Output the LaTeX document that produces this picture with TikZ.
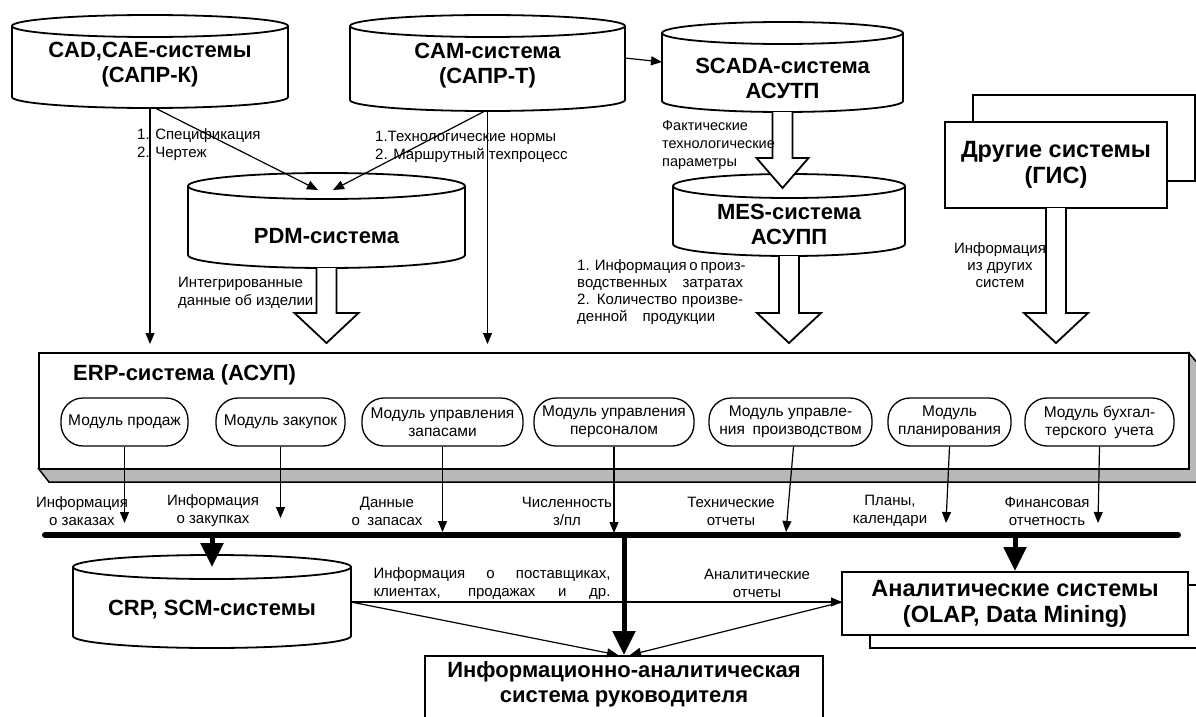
\documentclass[tikz,border=0pt]{standalone}
\usepackage{fontspec}
\setmainfont{Liberation Sans}
\usetikzlibrary{arrows.meta}
\newcommand{\lblfont}{\fontsize{15}{18}\selectfont}
\newcommand{\modfont}{\fontsize{15.5}{18}\selectfont}
\newcommand{\ttlfont}{\fontsize{22}{25}\selectfont\bfseries}
\newcommand{\bigttlfont}{\fontsize{23.5}{26}\selectfont\bfseries}
\newcommand{\drawcyl}[6]{%
  \pgfmathsetmacro{\cylrx}{(#3-#2)/2}%
  \pgfmathsetmacro{\cylca}{#4+#6}%
  \pgfmathsetmacro{\cylcb}{#5-#6}%
  \pgfmathsetmacro{\cylcx}{(#2+#3)/2}%
  \filldraw[cylline] (#2,-\cylca) -- (#2,-\cylcb) arc[start angle=180,end angle=360,x radius=\cylrx,y radius=#6] -- (#3,-\cylca) arc[start angle=0,end angle=180,x radius=\cylrx,y radius=#6] -- cycle;
  \draw[cylline,fill=none] (#2,-\cylca) arc[start angle=180,end angle=360,x radius=\cylrx,y radius=#6];
  \coordinate (#1-top) at (\cylcx,-#4);
  \coordinate (#1-bot) at (\cylcx,-#5);
}
\newcommand{\harrow}[6]{%
  \filldraw[hol] ({#1-#4},-#2) -- ({#1-#4},{-(#3-#6)}) -- ({#1-#5},{-(#3-#6)}) -- (#1,-#3) -- ({#1+#5},{-(#3-#6)}) -- ({#1+#4},{-(#3-#6)}) -- ({#1+#4},-#2);
}
\begin{document}
\begin{tikzpicture}[x=1pt,y=1pt,
  cylline/.style={line width=1.8pt,fill=white},
  conn/.style={line width=1.2pt,-{Triangle[length=11pt,width=9pt]}},
  hol/.style={line width=1.8pt,fill=white,line join=miter},
  thk/.style={line width=5pt,-{Triangle[length=24pt,width=22pt]}},
  bus/.style={line width=6pt,line cap=round},
  lbl/.style={font=\lblfont,align=center,inner sep=0pt},
  lbll/.style={font=\lblfont,align=left,inner sep=0pt,anchor=west},
  ttl/.style={font=\ttlfont,align=center,inner sep=0pt},
  module/.style={draw,line width=1.3pt,rounded corners=22pt,align=center,font=\modfont,inner sep=0pt,minimum height=48pt,fill=white},
  box/.style={draw,line width=2pt,fill=white,inner sep=0pt},
]
\useasboundingbox (0,0) rectangle (1196,-717);

% ---------- top row ----------
\drawcyl{cad}{12}{288}{15}{108}{11}
\node[ttl] (cadt) at (150,-65) {CAD,CAE-системы\\(САПР-К)};
\drawcyl{cam}{350}{625}{15}{111}{11}
\node[ttl] (camt) at (487.5,-66) {CAM-система\\(САПР-Т)};
\drawcyl{scada}{662}{903}{22}{112}{11}
\node[ttl] (scadat) at (782.5,-78) {SCADA-система\\АСУТП};

\node[box,minimum width=222pt,minimum height=86pt] (gis2) at (1084,-138) {};
\node[box,minimum width=222pt,minimum height=86pt,font=\bigttlfont,align=center] (gis) at (1056,-165) {Другие системы\\(ГИС)};

\coordinate (camR) at (625,-58);
\coordinate (scadaL) at (662,-62);
\draw[conn] (camR) -- (scadaL);

% labels
\node[lbll] (l1) at (137,-145) {1. Спецификация\\2. Чертеж};
\node[lbll] (l2) at (375,-147) {1.Технологические нормы\\2. Маршрутный техпроцесс};

% PDM
\drawcyl{pdm}{188}{465}{173}{268}{13}
\node[ttl] (pdmt) at (326.5,-236) {PDM-система};
\coordinate (cadd) at (155,-108);
\coordinate (camd) at (485,-111);
\coordinate (pa) at (318,-190);
\coordinate (pb) at (333,-190);
\draw[conn] (cadd) -- (pa);
\draw[conn] (camd) -- (pb);

% MES
\drawcyl{mes}{673}{905}{174}{256}{12}
\node[ttl] (mest) at (789,-224) {MES-система\\АСУПП};
\harrow{782.5}{112}{188}{10}{26}{30}
\node[lbll,font=\fontsize{14.5}{18}\selectfont] (l3) at (662,-145) {Фактические\\технологические\\параметры};

% ---------- ERP ----------
\fill[black!28] (38,-468) -- (49,-482) -- (1200,-482) -- (1200,-366) -- (1188,-352) -- (1188,-468) -- cycle;
\draw[line width=1.5pt] (38,-468) -- (49,-482) -- (1200,-482);
\draw[line width=1.5pt] (1188,-352) -- (1200,-366);
\node[box,minimum width=1150pt,minimum height=116pt,anchor=north west] (erp) at (38,-352) {};
\node[ttl,anchor=west] (erpt) at (73,-375) {ERP-система (АСУП)};

\harrow{326.5}{268}{343}{10}{32}{30}
\harrow{789}{256}{343}{10}{32}{30}
\harrow{1056}{208}{343}{10}{32}{30}

\draw[conn] (cad-bot) -- ([yshift=8pt]cad-bot |- erp.north);
\draw[conn] (cam-bot) -- ([yshift=8pt]cam-bot |- erp.north);

\node[lbll] (l4) at (178,-293) {Интегрированные\\данные об изделии};
\node[lbll,font=\fontsize{15}{17}\selectfont] (l5) at (577,-292) {\makebox[166pt][s]{1. Информация о произ-}\\\makebox[166pt][s]{водственных затратах}\\\makebox[166pt][s]{2. Количество произве-}\\денной\quad продукции};
\node[lbl,font=\fontsize{15}{17}\selectfont] (l6) at (1000,-265) {Информация\\из других\\систем};

% modules
\node[module,minimum width=127pt] (m1) at (124.5,-422) {Модуль продаж};
\node[module,minimum width=129pt] (m2) at (280.5,-422) {Модуль закупок};
\node[module,minimum width=161pt] (m3) at (442.5,-422) {Модуль управления\\запасами};
\node[module,minimum width=160pt] (m4) at (614,-422) {Модуль управления\\персоналом};
\node[module,minimum width=163pt] (m5) at (790.5,-422) {Модуль управле-\\ния\enspace производством};
\node[module,minimum width=123pt] (m6) at (949.5,-422) {Модуль\\планирования};
\node[module,minimum width=149pt] (m7) at (1099.5,-422) {Модуль бухгал-\\терского\enspace учета};

\coordinate (t1) at (124.5,-523);
\coordinate (t2) at (280.5,-518);
\coordinate (t3) at (442.5,-532);
\coordinate (t4) at (614,-533);
\coordinate (t5) at (786,-532);
\coordinate (t6) at (946,-523);
\coordinate (t7) at (1098,-523);
\draw[conn] (m1.south) -- (t1);
\draw[conn] (m2.south) -- (t2);
\draw[conn] (m3.south) -- (t3);
\draw[conn] (m4.south) -- (t4);
\draw[conn] ([xshift=3pt]m5.south) -- (t5);
\draw[conn] (m6.south) -- (t6);
\draw[conn] (m7.south) -- (t7);

\node[lbl] (q1) at (82,-511) {Информация\\о заказах};
\node[lbl] (q2) at (213,-511) {Информация\\о закупках};
\node[lbl] (q3) at (387,-511) {Данные\\о\enspace запасах};
\node[lbl] (q4) at (567,-511) {Численность\\з/пл};
\node[lbl] (q5) at (731,-511) {Технические\\отчеты};
\node[lbl] (q6) at (890,-511) {Планы,\\календари};
\node[lbl] (q7) at (1047,-511) {Финансовая\\отчетность};

% bus
\coordinate (busL) at (45,-535);
\coordinate (busR) at (1178,-535);
\draw[bus] (busL) -- (busR);

% bottom
\drawcyl{crp}{73}{351}{555}{648}{12}
\node[ttl] (crpt) at (212,-610) {CRP, SCM-системы};
\coordinate (crpin) at (212,-567);
\draw[thk] (crpin |- busL) -- (crpin);

\node[box,minimum width=398pt,minimum height=90pt,anchor=north] (ias) at (624,-655) {};
\node[ttl] (iast) at (624,-684) {Информационно-аналитическая\\система руководителя};
\draw[thk] (ias.north |- busL) -- (ias.north);

\node[box,minimum width=346pt,minimum height=63pt] (an2) at (1043,-616) {};
\node[box,minimum width=346pt,minimum height=63pt,font=\bigttlfont,align=center] (an) at (1015,-603.5) {Аналитические системы\\(OLAP, Data Mining)};
\draw[thk] (an.north |- busL) -- (an.north);

\coordinate (crpR) at (351,-602);
\coordinate (anL) at (842,-602);
\draw[conn] (crpR) -- (anL);
\draw[conn] (crpR) -- ([xshift=-6pt]ias.north);
\draw[conn] (anL) -- ([xshift=6pt]ias.north);
\node[lbl] (l7) at (492,-583.5) {\makebox[237pt][s]{Информация о поставщиках,}\\\makebox[237pt][s]{клиентах, продажах и др.}};
\node[lbl] (l8) at (757,-583) {Аналитические\\отчеты};
\end{tikzpicture}
\end{document}
